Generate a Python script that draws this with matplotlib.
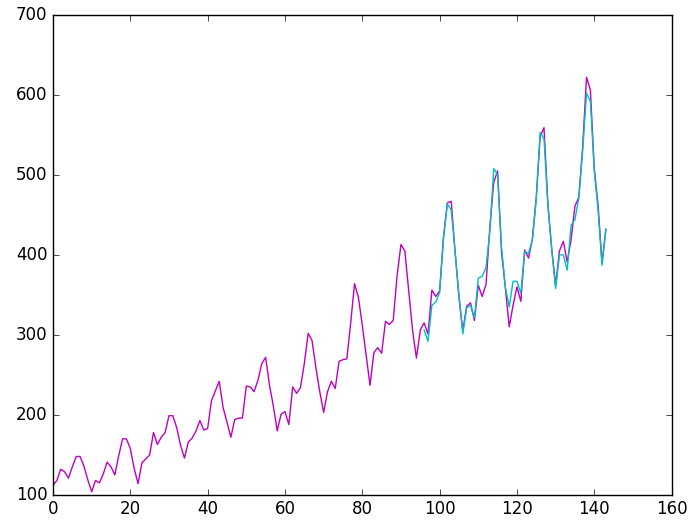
import numpy as np
import matplotlib
matplotlib.use('Agg')
import matplotlib.pyplot as plt

plt.style.use('classic')

# monthly airline passengers, 1949-1960
passengers = [112, 118, 132, 129, 121, 135, 148, 148, 136, 119, 104, 118,
              115, 126, 141, 135, 125, 149, 170, 170, 158, 133, 114, 140,
              145, 150, 178, 163, 172, 178, 199, 199, 184, 162, 146, 166,
              171, 180, 193, 181, 183, 218, 230, 242, 209, 191, 172, 194,
              196, 196, 236, 235, 229, 243, 264, 272, 237, 211, 180, 201,
              204, 188, 235, 227, 234, 264, 302, 293, 259, 229, 203, 229,
              242, 233, 267, 269, 270, 315, 364, 347, 312, 274, 237, 278,
              284, 277, 317, 313, 318, 374, 413, 405, 355, 306, 271, 306,
              315, 301, 356, 348, 355, 422, 465, 467, 404, 347, 305, 336,
              340, 318, 362, 348, 363, 435, 491, 505, 404, 359, 310, 337,
              360, 342, 406, 396, 420, 472, 548, 559, 463, 407, 362, 405,
              417, 391, 419, 461, 472, 535, 622, 606, 508, 461, 390, 432]

# predicted values for the test part
pred_start = 96
predicted = [306, 292, 337, 341, 353, 420, 464, 456, 404, 350, 301, 334,
             337, 321, 371, 373, 384, 430, 508, 500, 410, 360, 335, 367,
             367, 352, 404, 402, 419, 470, 553, 545, 463, 407, 358, 400,
             400, 381, 437, 444, 471, 530, 602, 592, 505, 455, 387, 432]

fig = plt.figure(figsize=(6.99, 5.31), dpi=100)
ax = fig.add_axes([0.0758, 0.068, 0.885, 0.904])

ax.plot(np.arange(len(passengers)), passengers, 'm')
ax.plot(np.arange(pred_start, pred_start + len(predicted)), predicted, 'c')

ax.set_xlim(0, 160)
ax.set_ylim(100, 700)

fig.savefig('out.png', dpi=100)
